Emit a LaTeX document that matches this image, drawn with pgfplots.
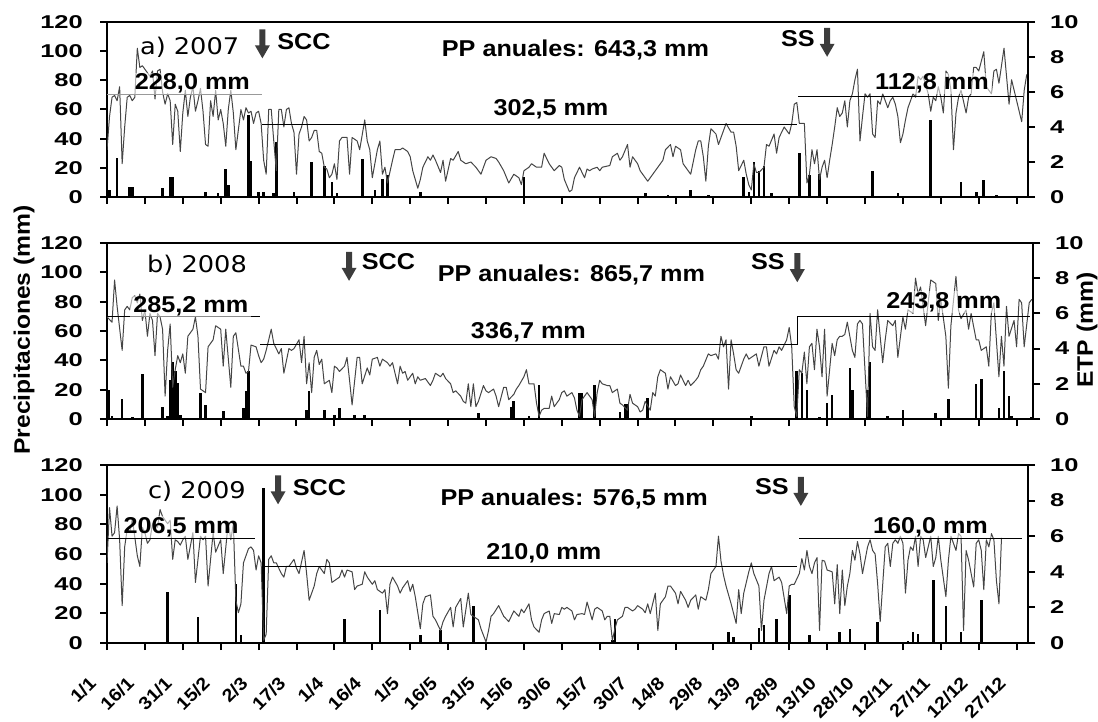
\documentclass[border=0pt]{standalone}
\usepackage{fontspec}
\usepackage{graphicx}
\setmainfont{Liberation Sans}
\newfontfamily\labfont{Liberation Sans}[FakeStretch=1.1, BoldFeatures={FakeStretch=1.1}]
\newfontfamily\yearfont{DejaVu Sans}[FakeStretch=1.12]
\usepackage{pgfplots}
\pgfplotsset{compat=1.18}

\definecolor{etpgray}{HTML}{454545}
\definecolor{arrowgray}{HTML}{3C3C3C}

\newcommand{\ytickfs}{\labfont\bfseries\fontsize{18.6}{20}\selectfont}
\newcommand{\xtickfs}{\labfont\bfseries\fontsize{18}{20}\selectfont}
\newcommand{\xl}[1]{{\xtickfs #1}}
\newcommand{\labfs}{\labfont\bfseries\fontsize{23}{26}\selectfont}
\newcommand{\yearfs}{\yearfont\fontsize{23}{26}\selectfont}
\newcommand{\titlefs}{\labfont\bfseries\fontsize{22.5}{26}\selectfont}

\pgfplotsset{
  panel/.style={
    scale only axis, width=921bp,
    xmin=1, xmax=365.5,
    xtick={1,16,...,361},
    tick align=outside,
    major tick length=7bp,
    every tick/.style={black, line width=2bp},
    axis line style={line width=2.2bp},
    yticklabel={\scalebox{1.25}[1]{\pgfmathprintnumber[assume math mode=true]{\tick}}},
  },
  precax/.style={
    panel, ymin=0, ymax=120, ytick={0,20,...,120},
    xtick pos=bottom, ytick pos=left,
    xticklabels={},
    yticklabel style={font=\ytickfs, inner sep=0pt, anchor=east, xshift=-17bp},
  },
  etpax/.style={
    panel, ymin=0, ymax=10, ytick={0,2,...,10},
    axis x line=none, axis y line*=right,
    axis line style={line width=2.2bp, -},
    yticklabel style={font=\ytickfs, inner sep=0pt, anchor=west, xshift=15bp},
  },
  etpline/.style={etpgray, line width=1bp, line join=round},
  rain/.style={ycomb, black, line width=2.6bp},
  mean/.style={black, line width=1bp},
}
\tikzset{
  lab/.style={font=\labfs, inner sep=0pt},
  mmlab/.style={font=\labfs, anchor=base, fill=white, fill opacity=0.55, text opacity=1, inner xsep=3bp, inner ysep=1bp},
}
% downward block arrow whose top is at (day, etp)
\newcommand{\darr}[2]{\fill[arrowgray] (axis cs:#1,#2) ++(-3bp,0bp) -- ++(6bp,0bp) -- ++(0bp,-16bp) -- ++(4.5bp,0bp) -- ++(-7.5bp,-13bp) -- ++(-7.5bp,13bp) -- ++(4.5bp,0bp) -- cycle;}

\begin{document}
\begin{tikzpicture}

% ---------------- a) 2007 ----------------
\begin{axis}[precax, at={(107bp,525bp)}, anchor=south west, height=175bp]
\addplot[rain] coordinates {(2,4.6)(5,27)(10,7)(11,7)(23,6)(26,14)(27,14)(40,3.4)(45,3)(48,19)(49,8)(57,56)(58,25)(61,3.4)(63,3.4)(67,3)(68,38)(75,3.4)(82,24)(87,21)(90,10)(92,3)(102,26)(107,4.6)(110,12)(112,15)(125,3.4)(166,14)(214,2.7)(223,1.6)(232,4.6)(239,1.6)(253,14)(255,3.4)(257,24)(259,18)(261,21)(264,3)(275,30)(279,15)(283,16)(304,18)(314,3)(327,52.6)(339,10.3)(345,3.4)(348,11.4)(353,1.6)};
\end{axis}
\begin{axis}[etpax, at={(107bp,525bp)}, anchor=south west, height=175bp]
\addplot[etpline] coordinates {(1,2.7)(2,4.6)(3,5.7)(4,5.8)(5,5.5)(6,6.3)(7,1.9)(8,4.0)(9,5.7)(10,5.8)(11,5.5)(12,5.7)(13,8.5)(14,7.4)(15,7.5)(17,7.1)(18,6.9)(19,7.2)(20,5.6)(21,7.2)(22,7.3)(23,6.0)(24,5.3)(25,5.9)(26,5.5)(27,3.0)(28,5.3)(29,4.9)(30,2.6)(31,4.8)(32,6.1)(33,4.6)(34,5.7)(35,6.3)(36,4.9)(37,5.5)(38,6.2)(39,4.9)(40,3.0)(41,2.9)(42,5.5)(43,4.6)(44,6.1)(45,4.4)(46,5.0)(47,4.2)(48,2.9)(49,5.0)(50,6.1)(51,4.8)(52,2.7)(54,5.0)(55,4.4)(56,5.1)(57,4.8)(58,4.9)(59,4.2)(60,4.8)(61,4.9)(62,4.2)(63,2.1)(64,1.3)(65,5.0)(66,5.0)(67,3.2)(68,1.5)(69,5.0)(70,5.0)(71,4.0)(72,5.0)(73,5.1)(74,4.2)(75,3.7)(76,1.3)(77,3.6)(78,4.0)(79,4.6)(80,4.4)(81,3.2)(82,3.4)(83,3.8)(84,3.8)(85,2.6)(86,2.5)(87,1.7)(88,1.6)(89,1.1)(90,1.3)(91,1.9)(92,1.0)(93,3.2)(94,3.4)(95,3.4)(96,3.4)(97,1.3)(98,3.4)(100,3.2)(101,2.7)(103,4.4)(104,3.2)(105,2.7)(106,1.1)(108,2.7)(109,3.2)(110,1.3)(111,1.7)(112,0.8)(114,2.1)(115,2.7)(117,2.7)(118,2.8)(120,2.6)(121,2.3)(122,1.5)(124,0.5)(125,1.0)(126,1.7)(128,2.3)(129,2.1)(130,2.4)(131,2.1)(133,1.4)(134,2.1)(135,0.9)(137,2.2)(138,2.1)(140,2.6)(141,2.1)(143,1.9)(145,2.0)(147,1.7)(149,1.3)(151,2.1)(153,2.3)(155,2.2)(156,2.0)(158,1.5)(160,0.8)(162,1.3)(164,1.1)(165,0.7)(166,1.5)(168,1.7)(169,1.9)(171,1.7)(173,1.7)(174,2.5)(176,1.9)(177,1.7)(178,1.5)(180,1.8)(181,1.7)(182,1.0)(184,0.3)(185,0.4)(186,1.1)(188,1.7)(190,1.1)(191,1.6)(192,1.5)(193,1.6)(195,1.7)(196,1.5)(197,1.7)(200,1.8)(201,2.3)(203,2.5)(204,2.1)(205,2.3)(207,3.0)(208,1.7)(209,2.3)(211,1.9)(212,1.5)(214,1.1)(215,0.9)(217,1.3)(219,1.7)(221,2.1)(222,2.7)(224,3.0)(225,2.3)(226,2.9)(228,2.7)(229,1.9)(230,1.7)(232,1.3)(234,2.7)(235,3.2)(236,3.2)(237,2.3)(238,0.9)(239,2.9)(240,3.9)(242,3.6)(243,3.0)(244,3.4)(246,4.2)(248,3.7)(249,3.7)(250,2.9)(251,1.5)(253,2.1)(254,1.3)(255,0.7)(256,0.4)(257,1.9)(258,1.4)(259,1.4)(261,1.7)(262,3.0)(263,2.9)(265,3.6)(266,2.5)(267,3.4)(269,4.0)(271,3.6)(272,4.2)(273,5.3)(274,5.4)(275,4.2)(277,4.2)(278,0.8)(279,1.3)(280,2.7)(281,1.9)(282,2.7)(283,1.0)(284,1.7)(285,2.1)(286,1.1)(287,2.1)(288,3.0)(289,4.0)(290,5.1)(291,4.6)(292,4.8)(293,5.5)(294,4.0)(295,5.5)(296,5.9)(297,6.7)(298,7.3)(299,3.2)(300,4.6)(301,5.9)(302,5.7)(303,5.9)(304,3.6)(305,3.4)(306,5.5)(307,5.3)(308,5.9)(310,5.1)(311,5.5)(312,5.7)(313,5.3)(314,4.6)(315,3.1)(316,3.6)(317,4.4)(318,5.1)(319,5.5)(320,5.9)(321,5.7)(322,6.9)(323,6.7)(324,6.9)(326,5.9)(327,4.9)(328,5.7)(329,5.5)(330,6.3)(331,5.7)(332,4.8)(333,7.2)(334,7.0)(335,6.1)(336,2.7)(337,4.8)(338,5.7)(339,6.1)(341,4.8)(342,5.7)(343,5.9)(344,7.4)(345,7.4)(346,7.2)(348,8.3)(349,6.3)(350,6.1)(351,5.9)(352,7.2)(353,7.3)(354,6.5)(356,8.5)(357,6.9)(358,5.3)(359,6.7)(360,6.1)(361,5.5)(363,4.3)(364,6.1)(365,7.0)};
\addplot[mean, gray!80] coordinates {(1,5.83)(62.2,5.83)};
\addplot[mean] coordinates {(62.2,4.15)(274,4.15)};
\addplot[mean] coordinates {(274.5,5.75)(363.5,5.75)};
\node[lab, font=\yearfs, anchor=base west] at (axis cs:14,8.12) {a) 2007};
\darr{62.5}{9.58}
\node[lab, anchor=base west] at (axis cs:68.3,8.44) {SCC};
\node[lab, anchor=base] at (axis cs:186.4,8.0) {PP anuales: 643,3 mm};
\node[lab, anchor=base east] at (axis cs:281.2,8.58) {SS};
\darr{286}{9.67}
\node[mmlab] at (axis cs:34.8,6.12) {228,0 mm};
\node[mmlab] at (axis cs:176.7,4.68) {302,5 mm};
\node[mmlab] at (axis cs:327.5,6.12) {112,8 mm};
\end{axis}

% ---------------- b) 2008 ----------------
\begin{axis}[precax, at={(107bp,303bp)}, anchor=south west, height=176bp, width=926bp, xmax=367.5]
\addplot[rain] coordinates {(1.6,20)(3,1.8)(7,13.6)(11,1.4)(15,30.8)(23,8.2)(25,2.3)(26,26.7)(27,39.2)(28,32.4)(29,24.5)(30,3)(38,17.7)(40,9.7)(47,5.2)(55,7.5)(56,18.8)(57,32.4)(80,6.3)(81,18.8)(87,6.3)(91,3)(93,7.5)(99,3)(103,3)(148,4.1)(161,7.9)(162,12.5)(168,2.3)(172,22.9)(188,17.7)(189,17.7)(194,22.9)(204,4.5)(206,10.4)(207,10.4)(215,14.3)(256,2.3)(274,32.4)(276,31.2)(278,19.5)(283,1.1)(286,10.9)(288,16.5)(295,34.6)(296,19.9)(302,19.9)(303,39.2)(310,1.8)(316,6.3)(329,4.1)(334,13.6)(345,24)(347,27.2)(354,7.5)(356,33)(358,15.8)(359,1.8)(367,1.1)};
\end{axis}
\begin{axis}[etpax, at={(107bp,303bp)}, anchor=south west, height=176bp, width=926bp, xmax=367.5]
\addplot[etpline] coordinates {(1,5.8)(3,5.5)(4,7.9)(5,6.4)(7,3.9)(8,6.2)(9,6.4)(10,6.2)(11,6.9)(12,7.0)(13,6.6)(14,7.1)(15,5.6)(16,6.2)(17,4.7)(18,6.0)(19,5.6)(20,3.6)(21,6.0)(22,5.8)(23,5.1)(24,1.3)(25,3.9)(26,5.4)(27,1.8)(28,2.8)(29,3.6)(30,3.2)(31,3.7)(32,2.6)(33,4.7)(35,5.1)(36,5.8)(37,4.7)(38,1.7)(40,1.5)(41,4.1)(42,4.3)(43,4.5)(44,5.3)(46,5.1)(47,3.0)(48,5.1)(50,1.8)(51,4.7)(52,4.9)(54,3.0)(55,3.0)(56,2.6)(57,2.7)(58,4.2)(60,4.1)(61,3.6)(62,3.2)(63,3.4)(64,3.9)(66,5.1)(67,4.3)(69,3.7)(70,4.0)(71,2.6)(73,4.0)(74,3.9)(75,4.0)(77,4.5)(78,3.2)(79,4.7)(80,2.0)(81,3.2)(82,1.5)(83,3.5)(84,3.9)(85,3.1)(86,3.4)(87,2.0)(89,2.2)(90,1.5)(91,3.0)(92,2.9)(93,2.7)(95,3.0)(96,3.5)(97,2.2)(98,0.8)(100,3.5)(101,3.5)(102,2.0)(104,2.9)(105,2.5)(106,3.4)(108,3.5)(109,3.0)(110,3.4)(112,3.2)(113,3.0)(114,3.2)(116,2.0)(117,3.0)(118,2.6)(119,2.7)(120,2.2)(122,2.6)(123,2.0)(124,2.4)(125,2.2)(127,2.3)(129,1.9)(130,2.2)(131,2.6)(133,2.4)(134,2.6)(135,2.3)(137,2.0)(138,1.5)(139,1.6)(141,1.3)(142,1.0)(143,0.9)(144,2.0)(145,0.7)(146,2.0)(147,0.7)(148,1.0)(150,1.9)(151,1.6)(152,1.5)(154,1.7)(155,1.3)(156,0.7)(158,1.8)(159,1.8)(160,1.1)(162,1.4)(163,1.7)(164,1.9)(166,2.4)(167,2.8)(168,2.0)(170,2.0)(171,0.9)(172,0.15)(173,0.5)(174,0.6)(176,0.6)(177,1.3)(178,0.7)(180,1.1)(181,1.5)(182,1.6)(183,1.3)(185,1.5)(186,1.2)(187,0.5)(188,0.15)(189,1.1)(190,1.3)(191,1.5)(193,1.1)(194,0.15)(195,1.5)(196,2.2)(197,2.0)(199,1.9)(200,1.9)(201,1.5)(203,1.7)(204,0.9)(205,0.8)(207,0.5)(208,1.4)(209,0.9)(211,0.7)(212,0.4)(213,0.5)(214,1.0)(216,0.5)(217,1.5)(218,1.3)(219,2.4)(220,2.8)(222,2.6)(223,1.7)(224,2.4)(226,1.9)(227,2.0)(228,2.5)(230,1.9)(231,2.2)(232,1.9)(234,2.2)(235,2.4)(236,2.8)(237,3.0)(239,3.7)(240,3.6)(242,3.7)(243,3.4)(244,4.7)(245,4.1)(246,4.5)(247,1.7)(248,4.5)(249,3.7)(250,2.8)(251,2.6)(253,3.4)(254,3.7)(255,3.4)(257,3.6)(258,3.7)(259,3.0)(261,4.1)(262,4.1)(263,3.0)(265,3.9)(266,3.7)(267,4.1)(268,3.9)(270,4.5)(271,5.2)(272,4.1)(273,0.7)(274,0.15)(275,2.8)(276,2.6)(277,3.8)(278,2.0)(279,4.1)(280,4.3)(281,2.8)(282,5.1)(283,4.1)(284,2.4)(285,5.1)(286,1.3)(288,4.3)(289,3.6)(290,4.5)(291,4.7)(292,4.7)(293,4.8)(294,5.5)(296,3.9)(297,3.5)(298,5.4)(299,5.6)(300,5.4)(302,0.15)(303,6.0)(304,4.1)(305,3.9)(306,6.2)(308,3.2)(309,4.5)(310,5.6)(312,5.3)(313,5.6)(314,3.5)(316,5.8)(317,5.1)(318,6.2)(320,6.0)(321,8.0)(322,7.1)(323,7.5)(325,5.3)(326,6.6)(327,7.9)(329,7.7)(330,5.6)(331,6.8)(333,4.7)(334,1.75)(335,5.3)(337,8.1)(338,6.2)(339,5.7)(341,6.2)(342,5.1)(343,6.0)(345,4.5)(346,4.5)(347,3.9)(349,4.1)(350,3.0)(351,6.0)(352,6.6)(354,2.4)(355,4.7)(356,3.0)(357,6.4)(358,4.7)(360,5.6)(361,4.1)(362,6.8)(363,6.6)(364,4.1)(366,6.6)(367,6.8)};
\addplot[mean] coordinates {(1,5.81)(61.6,5.81)};
\addplot[mean] coordinates {(61.6,4.21)(274.3,4.21)(274.3,5.85)(366.3,5.85)};
\node[lab, font=\yearfs, anchor=base west] at (axis cs:16.8,8.33) {b) 2008};
\darr{96.8}{9.5}
\node[lab, anchor=base west] at (axis cs:101.8,8.47) {SCC};
\node[lab, anchor=base] at (axis cs:184.8,7.8) {PP anuales: 865,7 mm};
\node[lab, anchor=base east] at (axis cs:269.3,8.47) {SS};
\darr{274.2}{9.42}
\node[mmlab] at (axis cs:34.2,6.04) {285,2 mm};
\node[mmlab] at (axis cs:167.8,4.58) {336,7 mm};
\node[mmlab] at (axis cs:332.2,6.29) {243,8 mm};
\end{axis}

% ---------------- c) 2009 ----------------
\begin{axis}[precax, at={(107bp,79bp)}, anchor=south west, height=178bp,
  xticklabels={\xl{1/1},\xl{16/1},\xl{31/1},\xl{15/2},\xl{2/3},\xl{17/3},\xl{1/4},\xl{16/4},\xl{1/5},\xl{16/5},\xl{31/5},\xl{15/6},\xl{30/6},\xl{15/7},\xl{30/7},\xl{14/8},\xl{29/8},\xl{13/9},\xl{28/9},\xl{13/10},\xl{28/10},\xl{12/11},\xl{27/11},\xl{12/12},\xl{27/12}},
  xticklabel style={font=\xtickfs, xshift=-19bp, yshift=-25bp, rotate=45, anchor=north east, inner sep=0pt}]
\addplot[rain] coordinates {(25,34.4)(37,17.6)(52,39.6)(54,5.6)(63,104.7)(95,16)(109,22.5)(125,5.6)(133,8.6)(146,24.8)(201,1.8)(202,16)(247,7.4)(249,4)(259,10.4)(261,12)(266,16)(271,32.2)(279,5.2)(283,0.9)(291,7.4)(295,9.7)(306,14.2)(318,1.1)(320,7.4)(322,6.3)(328,42.8)(333,24.8)(339,7.4)(347,28.8)};
\end{axis}
\begin{axis}[etpax, at={(107bp,79bp)}, anchor=south west, height=178bp]
\addplot[etpline] coordinates {(1,4.5)(2,7.6)(3,6.0)(4,6.2)(5,7.7)(6,5.8)(7,2.1)(8,5.4)(9,6.4)(10,6.2)(11,7.0)(13,4.9)(14,4.3)(15,6.5)(16,6.2)(17,5.6)(18,5.8)(19,6.7)(21,6.5)(22,7.5)(23,7.1)(25,6.7)(26,6.9)(27,4.7)(28,5.8)(29,5.7)(30,5.5)(31,5.8)(32,6.0)(33,4.7)(35,6.2)(36,3.4)(38,6.0)(39,5.8)(40,6.0)(41,3.2)(43,6.2)(44,5.1)(46,5.8)(47,3.9)(49,6.8)(50,5.8)(51,6.7)(52,2.4)(53,1.7)(54,2.2)(55,4.5)(57,5.3)(58,5.4)(59,5.2)(60,4.1)(61,4.9)(62,4.5)(63,0.15)(64,0.5)(65,4.7)(66,4.9)(67,4.5)(68,4.5)(70,3.9)(71,3.7)(72,4.3)(73,4.3)(75,4.7)(76,4.2)(77,3.9)(79,5.2)(80,3.9)(81,2.4)(83,3.2)(84,3.9)(85,4.3)(87,3.9)(88,4.7)(89,4.5)(90,3.4)(91,3.5)(93,3.7)(94,4.1)(95,3.7)(96,4.1)(98,4.0)(99,3.0)(100,3.2)(102,3.3)(103,4.0)(104,3.7)(106,3.3)(107,3.5)(108,3.0)(110,2.8)(111,3.0)(112,1.65)(113,3.3)(114,3.7)(116,3.2)(117,2.8)(118,3.1)(120,3.5)(121,2.9)(122,3.3)(123,2.6)(125,0.8)(126,2.2)(127,2.6)(129,2.7)(130,1.5)(131,1.3)(133,0.7)(134,1.2)(135,1.5)(137,2.0)(138,0.9)(139,2.0)(141,2.5)(142,0.9)(144,2.8)(145,1.6)(146,1.5)(148,1.3)(149,0.8)(151,0.06)(152,0.7)(153,1.5)(154,1.65)(156,2.1)(157,1.8)(158,1.5)(160,1.2)(161,1.5)(162,1.8)(164,1.5)(165,1.9)(166,1.7)(168,2.2)(169,1.3)(170,0.9)(172,0.6)(173,1.3)(174,1.65)(176,1.8)(177,1.1)(178,1.65)(180,1.6)(181,2.0)(182,1.9)(183,2.0)(185,1.8)(186,1.3)(187,1.6)(189,1.65)(190,1.6)(191,2.3)(193,1.3)(194,1.9)(195,2.0)(197,1.8)(198,1.3)(199,1.5)(200,1.5)(201,0.15)(202,0.8)(203,1.3)(205,1.5)(206,2.0)(207,2.0)(209,1.8)(210,1.9)(211,2.1)(213,1.9)(214,1.7)(215,2.2)(216,1.65)(218,2.8)(219,0.7)(220,2.2)(222,2.6)(223,3.2)(224,3.2)(226,2.8)(227,2.2)(228,2.9)(230,2.4)(231,2.0)(232,2.4)(234,2.7)(235,1.9)(236,2.6)(238,2.4)(239,3.0)(240,3.9)(242,4.3)(243,6.0)(244,4.6)(245,3.8)(246,3.2)(248,2.2)(250,1.1)(251,3.0)(252,1.65)(253,2.8)(255,4.0)(256,4.5)(257,3.9)(259,3.2)(260,0.7)(261,2.4)(263,3.9)(264,4.3)(265,3.5)(267,3.7)(268,3.4)(270,1.65)(271,3.2)(272,3.3)(273,3.3)(275,3.9)(276,4.75)(277,4.1)(278,5.2)(279,4.3)(280,3.9)(281,4.5)(282,4.8)(283,0.7)(284,4.65)(285,4.6)(286,4.1)(288,4.0)(289,2.2)(290,4.4)(291,1.65)(292,4.1)(293,2.1)(294,3.2)(295,3.9)(296,5.2)(297,4.65)(298,5.7)(299,5.0)(300,3.9)(302,5.4)(303,5.8)(304,5.2)(305,5.0)(306,3.3)(307,1.2)(308,3.3)(309,5.4)(310,5.6)(311,4.3)(312,5.6)(313,5.8)(314,5.6)(315,6.0)(316,5.6)(317,2.8)(318,4.65)(319,5.4)(320,5.2)(321,6.0)(322,4.3)(323,6.0)(324,5.8)(325,4.8)(326,5.4)(327,6.0)(328,4.3)(329,4.8)(330,6.0)(331,4.65)(333,2.6)(334,4.65)(335,6.0)(337,5.2)(338,6.15)(339,6.0)(340,0.7)(341,5.2)(342,4.65)(343,3.9)(344,3.15)(345,5.6)(346,5.8)(347,5.2)(348,3.0)(349,5.8)(350,5.4)(351,6.15)(352,5.8)(353,3.5)(354,2.2)(355,5.9)};
\addplot[mean] coordinates {(1,5.87)(59.6,5.87)};
\addplot[mean] coordinates {(63.5,4.28)(274,4.28)};
\addplot[mean] coordinates {(275,5.85)(363,5.85)};
\node[lab, font=\yearfs, anchor=base west] at (axis cs:17.2,8.13) {c) 2009};
\darr{68.7}{9.42}
\node[lab, anchor=base west] at (axis cs:74.5,8.28) {SCC};
\node[lab, anchor=base] at (axis cs:185.9,7.75) {PP anuales: 576,5 mm};
\node[lab, anchor=base east] at (axis cs:270.9,8.32) {SS};
\darr{275.6}{9.33}
\node[mmlab] at (axis cs:30.3,6.17) {206,5 mm};
\node[mmlab] at (axis cs:173.9,4.7) {210,0 mm};
\node[mmlab] at (axis cs:326.9,6.17) {160,0 mm};
\end{axis}

% axis titles
\node[rotate=90, font=\titlefs] at (24bp,392bp) {Precipitaciones (mm)};
\node[rotate=90, font=\titlefs] at (1087bp,392bp) {ETP (mm)};

\pgfresetboundingbox
\path[use as bounding box] (0,0) rectangle (1098bp,722bp);
\end{tikzpicture}
\end{document}
